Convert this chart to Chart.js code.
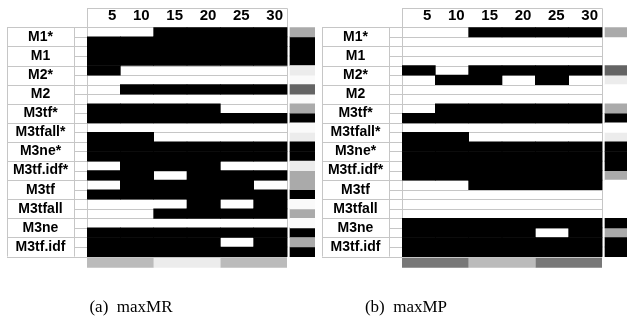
<!DOCTYPE html>
<html>
<head>
<meta charset="utf-8">
<script src="https://cdn.jsdelivr.net/npm/chart.js@4.4.0/dist/chart.umd.min.js"></script>
<style>
  html, body { margin: 0; padding: 0; background: #fff; overflow: hidden; }
  body { width: 627px; height: 328px; position: relative; }
  canvas { position: absolute; top: 0; }
  .cap { position: absolute; top: 297px; width: 160px; text-align: center;
         font: 17px "Liberation Serif", "Times New Roman", serif; color: #000; }
</style>
</head>
<body>
<canvas id="mr" width="316" height="303" style="left:0"></canvas>
<canvas id="mp" width="316" height="303" style="left:315px"></canvas>
<div class="cap" style="left:51px">(a)&nbsp; maxMR</div>
<div class="cap" style="left:326px">(b)&nbsp; maxMP</div>
<script>
const rows = ["M1*", "M1", "M2*", "M2", "M3tf*", "M3tfall*", "M3ne*", "M3tf.idf*", "M3tf", "M3tfall", "M3ne", "M3tf.idf"];
const xTicks = [5, 10, 15, 20, 25, 30];
const step = 5; // one cell = 5 runs

// 1 = black cell, 0 = empty. six cells per half row
const mrTop = [
  [0,0,1,1,1,1], [1,1,1,1,1,1], [1,0,0,0,0,0], [0,1,1,1,1,1],
  [1,1,1,1,0,0], [0,0,0,0,0,0], [1,1,1,1,1,1], [0,1,1,1,0,0],
  [0,1,1,1,1,0], [0,0,0,1,0,1], [0,0,0,0,0,0], [1,1,1,1,0,1]
];
const mrBottom = [
  [1,1,1,1,1,1], [1,1,1,1,1,1], [0,0,0,0,0,0], [0,0,0,0,0,0],
  [1,1,1,1,1,1], [1,1,0,0,0,0], [1,1,1,1,1,1], [1,1,0,1,1,1],
  [1,1,1,1,1,1], [0,0,1,1,1,1], [1,1,1,1,1,1], [1,1,1,1,1,1]
];
const mpTop = [
  [0,0,1,1,1,1], [0,0,0,0,0,0], [1,0,1,1,1,1], [0,0,0,0,0,0],
  [0,1,1,1,1,1], [0,0,0,0,0,0], [1,1,1,1,1,1], [1,1,1,1,1,1],
  [0,0,1,1,1,1], [0,0,0,0,0,0], [1,1,1,1,1,1], [1,1,1,1,1,1]
];
const mpBottom = [
  [0,0,0,0,0,0], [0,0,0,0,0,0], [0,1,1,0,1,0], [0,0,0,0,0,0],
  [1,1,1,1,1,1], [1,1,0,0,0,0], [1,1,1,1,1,1], [1,1,1,1,1,1],
  [0,0,0,0,0,0], [0,0,0,0,0,0], [1,1,1,1,0,1], [1,1,1,1,1,1]
];

// side column grey level [top, bottom] per row (0 black .. 255 white)
const mrSide = [
  [170,0], [0,0], [236,250], [100,250], [170,0], [250,236],
  [0,0], [236,170], [170,0], [250,170], [250,0], [170,0]
];
const mpSide = [
  [170,255], [255,255], [100,236], [255,255], [170,0], [255,236],
  [0,0], [0,170], [255,255], [255,255], [0,170], [0,0]
];

// bar under the grid, three blocks of 10 runs
const mrFoot = [187, 236, 187];
const mpFoot = [120, 187, 120];

const GAP = 0.45, SIDE_W = 3.75, XMAX = 30 + GAP + SIDE_W;
const AXIS_W = 80, TICK_W = 13;
const LINE = "#c6c6c6";
const FONT = "Liberation Sans";
const LABEL_SIZE = 14;

const grey = v => `rgb(${v},${v},${v})`;
const none = "rgba(0,0,0,0)";

// centre the row names inside the label box
const meas = document.createElement("canvas").getContext("2d");
meas.font = `bold ${LABEL_SIZE}px "${FONT}"`;
const widest = Math.max(...rows.map(r => meas.measureText(r).width));
const labelPad = TICK_W + (AXIS_W - TICK_W) / 2 - widest / 2;

const frame = {
  id: "frame",
  beforeDatasetsDraw(chart) {
    const { ctx, scales: { x, y } } = chart;
    const half = (y.getPixelForValue(1) - y.getPixelForValue(0)) / 2;
    const gl = x.getPixelForValue(0), gr = x.getPixelForValue(30);
    const top = y.getPixelForValue(0) - half;
    const bottom = y.getPixelForValue(rows.length - 1) + half;
    const c = v => Math.round(v) + 0.5;
    ctx.save();
    ctx.strokeStyle = LINE;
    ctx.lineWidth = 1;
    ctx.beginPath();
    for (let i = 0; i <= rows.length; i++) {
      const yy = c(y.getPixelForValue(i) - half);
      ctx.moveTo(y.left, yy); ctx.lineTo(gr, yy);
    }
    for (let i = 0; i < rows.length; i++) {
      const yy = c(y.getPixelForValue(i));
      ctx.moveTo(gl - TICK_W, yy); ctx.lineTo(gr, yy);
    }
    [y.left, gl - TICK_W].forEach(xx => { ctx.moveTo(c(xx), top); ctx.lineTo(c(xx), bottom); });
    [gl, gr].forEach(xx => { ctx.moveTo(c(xx), x.top); ctx.lineTo(c(xx), bottom); });
    ctx.moveTo(gl, c(x.top)); ctx.lineTo(gr, c(x.top));
    ctx.stroke();
    ctx.restore();
  }
};

function build(id, top, bottom, side, foot) {
  const datasets = [];
  [["top", top, 0], ["bottom", bottom, 1]].forEach(([stack, cells, k]) => {
    for (let s = 0; s < xTicks.length; s++) {
      datasets.push({
        stack,
        data: cells.map(() => step).concat([null]),
        backgroundColor: cells.map(r => r[s] ? "#000" : none)
      });
    }
    datasets.push({ stack, data: side.map(() => GAP).concat([null]), backgroundColor: none });
    datasets.push({ stack, data: side.map(() => SIDE_W).concat([null]), backgroundColor: side.map(r => grey(r[k])) });
  });
  foot.forEach(v => {
    datasets.push({
      stack: "top",
      data: rows.map(() => null).concat([30 / foot.length]),
      backgroundColor: grey(v),
      barPercentage: 1.35,
      borderWidth: { top: 3.5 },
      borderColor: none,
      inflateAmount: 0.33
    });
  });

  return new Chart(document.getElementById(id), {
    type: "bar",
    data: { labels: rows.concat([""]), datasets },
    options: {
      indexAxis: "y",
      responsive: false,
      animation: false,
      events: [],
      layout: { padding: { left: 7, top: 8, right: 1, bottom: 0 } },
      datasets: { bar: { categoryPercentage: 1, barPercentage: 1, borderWidth: 0 } },
      plugins: { legend: { display: false }, tooltip: { enabled: false } },
      scales: {
        x: {
          type: "linear", position: "top", stacked: true, min: 0, max: XMAX,
          grid: { display: false, drawTicks: false }, border: { display: false },
          afterBuildTicks: s => { s.ticks = xTicks.map(v => ({ value: v })); },
          afterFit: s => { s.height = 19; },
          ticks: { align: "end", labelOffset: -4, padding: 2, color: "#000",
                   font: { family: FONT, size: 15, weight: "bold" } }
        },
        y: {
          type: "category", stacked: true, offset: true,
          grid: { display: false, drawTicks: false }, border: { display: false },
          afterFit: s => { s.width = AXIS_W; },
          ticks: { autoSkip: false, crossAlign: "center", padding: labelPad, color: "#000",
                   font: { family: FONT, size: LABEL_SIZE, weight: "bold" } }
        }
      }
    },
    plugins: [frame]
  });
}

build("mr", mrTop, mrBottom, mrSide, mrFoot);
build("mp", mpTop, mpBottom, mpSide, mpFoot);
</script>
</body>
</html>
